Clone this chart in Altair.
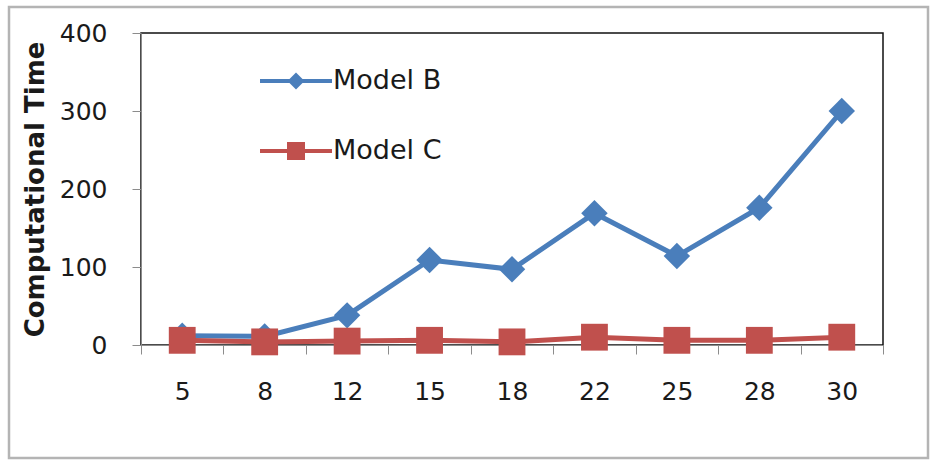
import altair as alt
import pandas as pd

# Problem sizes and computational time of the two models
sizes = ["5", "8", "12", "15", "18", "22", "25", "28", "30"]
model_b = [12, 11, 38, 109, 97, 169, 114, 176, 300]
model_c = [6, 4, 5, 6, 4, 10, 6, 6, 10]

series_names = ["Model B", "Model C"]
series_colors = ["#4A7EBB", "#C0504D"]
series_shapes = ["diamond", "square"]
y_ticks = [0, 100, 200, 300, 400]

rows = []
for name, vals in zip(series_names, [model_b, model_c]):
    for s, v in zip(sizes, vals):
        rows.append({"size": s, "series": name, "time": v})
df = pd.DataFrame(rows)

W, H = 742, 312
FONT = "DejaVu Sans"

x_enc = alt.X(
    "size:N",
    sort=sizes,
    scale=alt.Scale(paddingInner=0, paddingOuter=0),
    axis=alt.Axis(
        title=None, labelAngle=0, tickBand="extent", tickSize=9,
        domainColor="#8c8c8c", tickColor="#8c8c8c", labelPadding=25,
        labelFontSize=25, labelFont=FONT, labelColor="#1a1a1a",
        labelBaseline="top", grid=False,
    ),
)
y_enc = alt.Y(
    "time:Q",
    scale=alt.Scale(domain=[0, 400], nice=False),
    axis=alt.Axis(
        title="Computational Time", values=y_ticks, tickSize=9,
        domainColor="#8c8c8c", tickColor="#8c8c8c", labelPadding=25,
        labelFontSize=25, labelFont=FONT, labelColor="#1a1a1a",
        titleFontSize=26, titleFont=FONT, titleFontWeight="bold",
        titleColor="#1a1a1a", titlePadding=11, grid=False,
    ),
)

color_scale = alt.Scale(domain=series_names, range=series_colors)

lines = alt.Chart(df).mark_line(strokeWidth=5).encode(
    x=x_enc, y=y_enc,
    color=alt.Color("series:N", scale=color_scale, legend=None),
    detail="series:N",
)

b_pts = alt.Chart(df[df.series == "Model B"]).mark_point(
    filled=True, opacity=1, size=700, shape="diamond"
).encode(
    x=alt.X("size:N", sort=sizes), y="time:Q",
    color=alt.Color("series:N", scale=color_scale, legend=None),
)
c_pts = alt.Chart(df[df.series == "Model C"]).mark_point(
    filled=True, opacity=1, size=720, shape="square"
).encode(
    x=alt.X("size:N", sort=sizes), y="time:Q",
    color=alt.Color("series:N", scale=color_scale, legend=None),
)

# In-plot legend: a short line with the series marker, then the label
legend_layers = []
legend_rows = [(48, 17), (118, 18)]
for (name, col, shp), (ly, msz) in zip(zip(series_names, series_colors, series_shapes), legend_rows):
    ldf = pd.DataFrame({"series": [name]})
    legend_layers.append(
        alt.Chart(ldf).mark_rule(color=col, strokeWidth=4).encode(
            x=alt.value(119), x2=alt.value(191), y=alt.value(ly)
        )
    )
    legend_layers.append(
        alt.Chart(ldf).mark_point(filled=True, opacity=1, color=col, shape=shp,
                                  size=msz * msz).encode(
            x=alt.value(155), y=alt.value(ly)
        )
    )
    legend_layers.append(
        alt.Chart(ldf).mark_text(align="left", baseline="middle", font=FONT,
                                 fontSize=27, color="#1a1a1a").encode(
            x=alt.value(192), y=alt.value(ly), text="series:N"
        )
    )

# Outer frame around the whole chart
frame = alt.Chart(pd.DataFrame({"f": [0]})).mark_rect(
    fill=None, stroke="#b4b4b4", strokeWidth=2.5
).encode(
    x=alt.value(-132), x2=alt.value(787), y=alt.value(-26), y2=alt.value(425)
)

chart = alt.layer(frame, lines, b_pts, c_pts, *legend_layers).properties(
    width=W, height=H,
    autosize=alt.AutoSizeParams(type="none"),
    padding={"left": 141, "top": 33, "right": 51, "bottom": 115},
    background="white",
).configure_view(stroke="#111111", strokeWidth=1.5)

chart.save("out.html", embed_options={"renderer": "svg", "actions": False})
